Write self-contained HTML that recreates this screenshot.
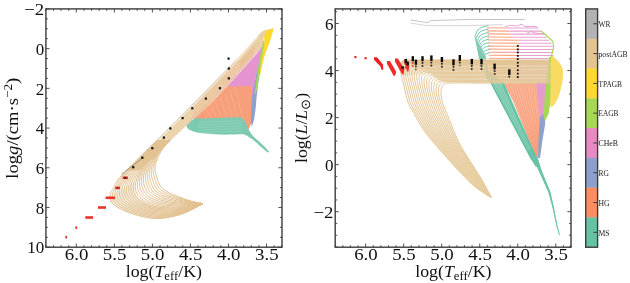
<!DOCTYPE html>
<html><head><meta charset="utf-8"><style>html,body{margin:0;padding:0;background:#fff;overflow:hidden;}svg{display:block;will-change:transform;}</style></head><body>
<svg width="630" height="283" viewBox="0 0 630 283" font-family='"Liberation Serif", serif' fill="#111">
<rect width="630" height="283" fill="#fff"/>
<defs><clipPath id="cl"><rect x="45.9" y="8.9" width="236.1" height="238.29999999999998"/></clipPath><clipPath id="cr"><rect x="335.2" y="8.9" width="235.8" height="238.29999999999998"/></clipPath></defs>
<g clip-path="url(#cl)"><path d="M193.0,118.0 L200.0,112.0 L211.9,101.5 L230.0,82.6 L236.0,77.0 L252.0,84.0 L253.0,100.0 L251.8,122.0 L248.0,131.0 L230.0,127.0 L200.0,121.0 Z" fill="#f69f7a"/>
<path d="M204.0,106.0 L211.0,117.0 L213.0,124.0" fill="none" stroke="#fbb596" stroke-width="0.6"/>
<path d="M209.2,102.8 L216.2,117.0 L218.2,124.0" fill="none" stroke="#fbb596" stroke-width="0.6"/>
<path d="M214.4,99.6 L221.4,117.0 L223.4,124.0" fill="none" stroke="#fbb596" stroke-width="0.6"/>
<path d="M219.6,96.4 L226.6,117.0 L228.6,124.0" fill="none" stroke="#fbb596" stroke-width="0.6"/>
<path d="M224.8,93.2 L231.8,117.0 L233.8,124.0" fill="none" stroke="#fbb596" stroke-width="0.6"/>
<path d="M230.0,90.0 L237.0,117.0 L239.0,124.0" fill="none" stroke="#fbb596" stroke-width="0.6"/>
<path d="M235.2,86.8 L242.2,117.0 L244.2,124.0" fill="none" stroke="#fbb596" stroke-width="0.6"/>
<path d="M226.0,86.0 L230.0,82.6 L245.0,66.0 L253.0,57.0 L259.0,50.0 L262.5,45.5 L264.0,50.0 L260.5,60.0 L256.5,72.0 L254.5,85.0 L254.0,100.0 L252.5,110.0 L251.0,110.0 L251.0,86.0 L233.8,86.5 Z" fill="#e594cf"/>
<path d="M262.0,54.0 L264.5,52.0 L262.0,62.0 L259.5,75.0 L257.8,86.0 L256.5,98.0 L255.5,110.0 L254.0,120.0 L251.8,127.0 L250.8,121.0 L251.5,108.0 L252.3,96.0 L254.5,84.0 L256.5,72.0 L259.5,62.0 Z" fill="#8da0cb"/>
<path d="M262.5,40.0 L265.0,42.0 L263.5,52.0 L261.5,62.0 L259.5,74.0 L258.0,84.0 L255.5,95.0 L254.5,94.0 L256.0,83.0 L257.5,72.0 L259.5,60.0 L261.5,48.0 Z" fill="#a6d854"/>
<path d="M263.0,31.0 L274.0,28.3 L271.0,38.0 L267.5,48.0 L264.5,56.0 L262.5,64.0 L260.5,74.0 L259.8,73.0 L261.0,62.0 L263.0,52.0 L264.5,44.0 L264.0,36.0 Z" fill="#ffd92f"/>
<path d="M186.5,124.0 C187.1,123.3 188.8,121.0 190.0,120.0 C191.2,119.0 191.5,118.5 194.0,118.2 C196.5,118.0 200.3,118.6 205.0,118.5 C209.7,118.4 216.5,118.0 222.0,117.8 C227.5,117.6 234.7,117.2 238.0,117.2 C241.3,117.2 240.8,117.3 242.0,118.0 C243.2,118.7 244.1,120.0 245.0,121.5 C245.9,123.0 246.8,125.4 247.5,127.0 C248.2,128.6 248.6,129.5 249.5,131.0 C250.4,132.5 251.6,134.4 253.0,136.0 C254.4,137.6 256.2,138.8 258.0,140.5 C259.8,142.2 262.1,144.1 264.0,146.0 C265.9,147.9 268.3,150.8 269.2,151.8 L268,152.6 267.6,152.4 C266.7,151.6 263.9,149.5 262.0,147.8 C260.1,146.1 257.8,143.8 256.0,142.3 C254.2,140.8 253.2,140.0 251.5,138.8 C249.8,137.6 247.6,135.9 246.0,135.2 C244.4,134.4 244.4,134.4 241.7,134.3 C239.0,134.2 233.8,134.6 230.0,134.6 C226.2,134.6 223.2,134.7 219.0,134.5 C214.8,134.3 209.0,133.9 205.0,133.5 C201.0,133.1 197.5,132.6 195.0,132.0 C192.5,131.4 191.3,130.8 190.0,130.0 C188.7,129.2 187.6,128.5 187.0,127.5 C186.4,126.5 186.6,124.6 186.5,124.0 Z" fill="#7ccab0"/>
<path d="M198.0,122.5 L215.0,121.5 L238.0,121.0 L242.0,122.0" fill="none" stroke="#9ad7c2" stroke-width="0.6"/>
<path d="M198.0,125.1 L215.0,124.1 L238.0,123.6 L242.0,124.6" fill="none" stroke="#9ad7c2" stroke-width="0.6"/>
<path d="M198.0,127.7 L215.0,126.7 L238.0,126.2 L242.0,127.2" fill="none" stroke="#9ad7c2" stroke-width="0.6"/>
<path d="M198.0,130.3 L215.0,129.3 L238.0,128.8 L242.0,129.8" fill="none" stroke="#9ad7c2" stroke-width="0.6"/>
<path d="M198.0,132.9 L215.0,131.9 L238.0,131.4 L242.0,132.4" fill="none" stroke="#9ad7c2" stroke-width="0.6"/>
<path d="M274.0,28.3 L263.0,30.8 L260.0,33.2 L240.0,55.5 L200.0,96.3 L160.0,137.1 L140.0,157.5 L126.0,171.0 L140.0,170.0 L150.0,160.0 L156.0,157.0 L163.0,147.3 L180.0,131.5 L200.0,112.9 L211.9,102.0 L230.0,83.1 L245.0,66.5 L253.0,57.5 L259.0,50.5 L262.5,46.0 L264.0,36.0 L266.0,31.0 Z" fill="#e9cfa5"/>
<path d="M256.0,44.2 L240.0,60.5 L212.0,89.1 L196.0,105.4 L190.0,122.2 L211.9,102.0 L230.0,83.1 L245.0,66.5 L253.0,57.5 Z" fill="#f3a57c" opacity="0.3"/>
<path d="M211.9,102.0 L230.0,83.1 L245.0,66.5 L253.0,57.5 L259.0,50.5 L257.5,49.0 L251.5,55.5 L243.5,64.3 L228.5,81.0 L210.4,99.8 Z" fill="#f0c8d0" opacity="0.4"/>
<path d="M259.0,34.0 L240.0,55.5 L200.0,96.3 L160.0,137.1 L140.0,157.5 L142.0,158.7 L160.0,140.3 L200.0,99.5 L240.0,58.7 L258.0,38.0 Z" fill="#fff" opacity="0.45"/>
<path d="M150.0,153.8 L200.0,102.8 L240.0,62.0" fill="none" stroke="#f3e4cc" stroke-width="0.6"/>
<path d="M150.0,156.8 L200.0,105.8 L240.0,65.0" fill="none" stroke="#f3e4cc" stroke-width="0.6"/>
<path d="M150.0,159.8 L200.0,108.8 L240.0,68.0" fill="none" stroke="#f3e4cc" stroke-width="0.6"/>
<path d="M157.0,140.0 C151.2,145.8 129.2,167.2 122.0,175.0 C114.8,182.8 116.0,183.5 114.0,187.0 C112.0,190.5 110.2,193.2 110.0,196.0 C109.8,198.8 110.5,201.5 113.0,204.0 C115.5,206.5 120.2,208.9 125.0,211.0 C129.8,213.1 136.2,215.2 142.0,216.5 C147.8,217.8 153.3,218.9 160.0,218.5 C166.7,218.1 174.9,216.4 182.0,214.0 C189.1,211.6 199.1,205.7 202.5,204.0" fill="none" stroke="#e0c08e" stroke-width="0.95"/>
<path d="M157.7,140.0 C152.1,145.5 131.3,165.7 124.5,173.3 C117.6,180.8 118.5,181.8 116.5,185.4 C114.5,188.9 112.6,191.8 112.4,194.7 C112.2,197.6 112.7,200.3 115.1,202.9 C117.5,205.4 121.8,207.8 126.5,210.0 C131.2,212.1 137.4,214.2 143.2,215.5 C149.1,216.8 154.8,217.8 161.4,217.5 C168.0,217.1 175.9,215.5 182.8,213.2 C189.6,211.0 199.2,205.5 202.5,204.0" fill="none" stroke="#e0c08e" stroke-width="0.95"/>
<path d="M158.3,140.0 C153.1,145.3 133.5,164.3 127.0,171.6 C120.4,178.9 121.0,180.1 119.0,183.8 C116.9,187.4 115.1,190.3 114.8,193.3 C114.5,196.3 115.0,199.1 117.2,201.7 C119.4,204.3 123.5,206.8 128.0,208.9 C132.6,211.0 138.7,213.2 144.5,214.5 C150.3,215.8 156.3,216.7 162.9,216.4 C169.4,216.1 176.9,214.5 183.5,212.5 C190.1,210.4 199.3,205.4 202.4,204.0" fill="none" stroke="#e0c08e" stroke-width="0.95"/>
<path d="M159.0,140.0 C154.1,145.0 135.7,162.8 129.4,169.9 C123.2,176.9 123.5,178.5 121.4,182.1 C119.4,185.8 117.5,188.9 117.1,192.0 C116.8,195.1 117.2,197.9 119.3,200.6 C121.4,203.2 125.2,205.7 129.6,207.9 C134.0,210.0 139.9,212.2 145.7,213.5 C151.5,214.8 157.9,215.7 164.3,215.4 C170.7,215.1 177.9,213.6 184.3,211.7 C190.6,209.8 199.4,205.3 202.4,204.0" fill="none" stroke="#e0c08e" stroke-width="0.95"/>
<path d="M159.7,140.0 C155.0,144.7 137.9,161.4 131.9,168.1 C125.9,174.9 126.0,176.8 123.9,180.5 C121.8,184.3 119.9,187.5 119.5,190.7 C119.1,193.8 119.5,196.7 121.4,199.4 C123.3,202.1 126.8,204.6 131.1,206.8 C135.4,209.0 141.2,211.2 147.0,212.5 C152.7,213.8 159.4,214.6 165.7,214.3 C172.1,214.1 178.9,212.7 185.0,211.0 C191.2,209.2 199.5,205.2 202.4,204.0" fill="none" stroke="#e0c08e" stroke-width="0.95"/>
<path d="M160.3,140.0 C156.0,144.4 140.0,159.9 134.4,166.4 C128.7,172.9 128.5,175.1 126.4,178.9 C124.3,182.7 122.4,186.1 121.9,189.3 C121.4,192.6 121.7,195.5 123.5,198.3 C125.3,201.0 128.5,203.6 132.6,205.8 C136.7,208.0 142.4,210.2 148.2,211.5 C153.9,212.8 160.9,213.5 167.1,213.3 C173.4,213.0 179.9,211.7 185.8,210.2 C191.7,208.6 199.6,205.0 202.4,204.0" fill="none" stroke="#e0c08e" stroke-width="0.95"/>
<path d="M161.0,140.0 C157.0,144.1 142.2,158.5 136.9,164.7 C131.5,170.9 131.0,173.4 128.9,177.3 C126.8,181.2 124.8,184.7 124.3,188.0 C123.7,191.3 123.9,194.4 125.6,197.1 C127.2,199.9 130.2,202.5 134.1,204.7 C138.1,206.9 143.7,209.2 149.4,210.5 C155.2,211.8 162.4,212.4 168.6,212.2 C174.8,212.0 180.9,210.8 186.6,209.4 C192.2,208.1 199.7,204.9 202.3,204.0" fill="none" stroke="#e0c08e" stroke-width="0.95"/>
<path d="M161.7,140.0 C157.9,143.8 144.4,157.1 139.3,163.0 C134.3,168.9 133.4,171.7 131.3,175.7 C129.2,179.6 127.3,183.3 126.7,186.7 C126.1,190.1 126.2,193.2 127.7,196.0 C129.2,198.8 131.8,201.4 135.7,203.7 C139.5,205.9 144.9,208.2 150.7,209.5 C156.4,210.8 163.9,211.3 170.0,211.2 C176.1,211.0 181.9,209.9 187.3,208.7 C192.7,207.5 199.8,204.8 202.3,204.0" fill="none" stroke="#e0c08e" stroke-width="0.95"/>
<path d="M162.3,140.0 C158.9,143.5 146.6,155.6 141.8,161.3 C137.1,167.0 135.9,170.0 133.8,174.0 C131.7,178.1 129.7,181.9 129.0,185.3 C128.4,188.8 128.4,192.0 129.8,194.9 C131.1,197.7 133.5,200.3 137.2,202.6 C140.9,204.9 146.2,207.2 151.9,208.5 C157.6,209.8 165.4,210.2 171.4,210.1 C177.5,210.0 183.0,208.9 188.1,207.9 C193.2,206.9 199.9,204.7 202.3,204.0" fill="none" stroke="#e0c08e" stroke-width="0.95"/>
<path d="M163.0,140.0 C159.9,143.3 148.7,154.2 144.3,159.6 C139.8,165.0 138.4,168.4 136.3,172.4 C134.1,176.5 132.2,180.5 131.4,184.0 C130.7,187.5 130.6,190.8 131.9,193.7 C133.1,196.6 135.2,199.3 138.7,201.6 C142.3,203.9 147.5,206.2 153.1,207.5 C158.8,208.8 166.9,209.1 172.9,209.1 C178.8,209.0 184.0,208.0 188.9,207.1 C193.8,206.3 200.0,204.5 202.2,204.0" fill="none" stroke="#e0c08e" stroke-width="0.95"/>
<path d="M163.7,140.0 C160.8,143.0 150.9,152.7 146.8,157.9 C142.6,163.0 140.9,166.7 138.8,170.8 C136.6,174.9 134.6,179.0 133.8,182.7 C133.0,186.3 132.9,189.6 134.0,192.6 C135.0,195.5 136.8,198.2 140.2,200.5 C143.6,202.8 148.7,205.2 154.4,206.5 C160.1,207.8 168.4,208.0 174.3,208.0 C180.2,208.0 185.0,207.1 189.6,206.4 C194.3,205.7 200.1,204.4 202.2,204.0" fill="none" stroke="#e0c08e" stroke-width="0.95"/>
<path d="M164.3,140.0 C161.7,142.7 152.7,151.6 148.8,156.5 C144.9,161.4 143.0,165.2 140.9,169.4 C138.7,173.5 136.8,177.7 136.0,181.3 C135.2,185.0 135.0,188.3 136.0,191.3 C137.0,194.3 138.7,197.0 142.0,199.4 C145.2,201.7 150.1,204.1 155.6,205.3 C161.2,206.6 169.4,206.9 175.1,207.0 C180.9,207.0 185.5,206.2 190.0,205.7 C194.5,205.2 200.2,204.3 202.2,204.0" fill="none" stroke="#e0c08e" stroke-width="0.95"/>
<path d="M165.0,140.0 C162.6,142.6 154.2,150.7 150.4,155.4 C146.7,160.1 144.7,164.0 142.6,168.1 C140.5,172.2 138.6,176.4 137.9,180.0 C137.1,183.6 137.1,187.0 138.1,190.0 C139.1,193.0 140.7,195.8 143.9,198.1 C147.0,200.5 151.6,202.7 156.9,204.0 C162.1,205.3 169.9,205.7 175.4,205.9 C181.0,206.1 185.5,205.6 190.0,205.2 C194.5,204.9 200.1,204.1 202.2,203.9" fill="none" stroke="#e0c08e" stroke-width="0.95"/>
<path d="M165.7,140.0 C163.4,142.4 155.6,149.9 152.0,154.4 C148.5,158.9 146.3,162.9 144.3,166.9 C142.2,171.0 140.4,175.0 139.8,178.7 C139.1,182.3 139.2,185.6 140.2,188.7 C141.2,191.7 142.8,194.6 145.8,196.9 C148.7,199.2 153.1,201.3 158.1,202.7 C163.1,204.0 170.4,204.5 175.7,204.9 C181.0,205.2 185.6,204.9 190.0,204.7 C194.4,204.6 200.1,204.0 202.2,203.9" fill="none" stroke="#e0c08e" stroke-width="0.95"/>
<path d="M166.3,140.0 C164.2,142.2 157.1,149.1 153.7,153.3 C150.3,157.6 148.0,161.7 146.0,165.7 C144.0,169.7 142.3,173.7 141.7,177.3 C141.1,180.9 141.3,184.3 142.3,187.3 C143.3,190.4 144.8,193.3 147.7,195.7 C150.5,198.0 154.6,200.0 159.3,201.3 C164.1,202.7 170.9,203.3 176.0,203.8 C181.1,204.3 185.6,204.2 190.0,204.2 C194.4,204.2 200.1,203.9 202.1,203.8" fill="none" stroke="#e0c08e" stroke-width="0.95"/>
<path d="M167.0,140.0 C165.0,142.0 158.5,148.2 155.3,152.3 C152.1,156.4 149.7,160.5 147.7,164.4 C145.8,168.4 144.1,172.4 143.6,176.0 C143.0,179.6 143.4,182.9 144.4,186.0 C145.4,189.1 146.9,192.1 149.6,194.4 C152.3,196.8 156.1,198.6 160.6,200.0 C165.0,201.4 171.4,202.2 176.3,202.8 C181.2,203.4 185.7,203.6 190.0,203.7 C194.3,203.9 200.1,203.8 202.1,203.8" fill="none" stroke="#e0c08e" stroke-width="0.95"/>
<path d="M167.7,140.0 C165.9,141.9 159.9,147.4 156.9,151.2 C153.9,155.1 151.3,159.3 149.4,163.2 C147.5,167.1 146.0,171.1 145.5,174.7 C145.0,178.2 145.5,181.6 146.5,184.7 C147.5,187.8 148.9,190.9 151.5,193.2 C154.0,195.5 157.6,197.2 161.8,198.7 C166.0,200.1 171.9,201.0 176.6,201.7 C181.3,202.5 185.7,202.9 190.0,203.2 C194.3,203.6 200.1,203.7 202.1,203.7" fill="none" stroke="#e0c08e" stroke-width="0.95"/>
<path d="M168.3,140.0 C166.7,141.7 161.4,146.5 158.5,150.2 C155.7,153.8 153.0,158.1 151.1,162.0 C149.3,165.8 147.8,169.8 147.4,173.3 C147.0,176.9 147.6,180.2 148.6,183.3 C149.6,186.4 151.0,189.6 153.4,192.0 C155.8,194.3 159.1,195.9 163.0,197.3 C167.0,198.8 172.4,199.8 176.9,200.7 C181.3,201.6 185.8,202.2 190.0,202.7 C194.2,203.2 200.1,203.5 202.1,203.7" fill="none" stroke="#e0c08e" stroke-width="0.95"/>
<path d="M169.0,140.0 C167.5,141.5 162.8,145.7 160.1,149.1 C157.5,152.6 154.7,156.9 152.9,160.7 C151.0,164.5 149.6,168.5 149.3,172.0 C148.9,175.5 149.7,178.9 150.7,182.0 C151.7,185.1 153.0,188.4 155.3,190.7 C157.5,193.0 160.6,194.5 164.3,196.0 C167.9,197.5 172.9,198.6 177.1,199.6 C181.4,200.7 185.8,201.5 190.0,202.2 C194.2,202.9 200.0,203.4 202.1,203.6" fill="none" stroke="#e0c08e" stroke-width="0.95"/>
<path d="M169.7,140.0 C168.3,141.3 164.3,144.8 161.8,148.1 C159.2,151.3 156.3,155.7 154.6,159.5 C152.8,163.2 151.5,167.1 151.2,170.7 C150.9,174.2 151.8,177.5 152.8,180.7 C153.8,183.8 155.1,187.1 157.2,189.5 C159.3,191.8 162.2,193.1 165.5,194.7 C168.9,196.2 173.3,197.4 177.4,198.6 C181.5,199.8 185.9,200.9 190.0,201.7 C194.1,202.5 200.0,203.3 202.0,203.6" fill="none" stroke="#e0c08e" stroke-width="0.95"/>
<path d="M170.3,140.0 C169.2,141.2 165.7,144.0 163.4,147.0 C161.0,150.1 158.0,154.5 156.3,158.2 C154.6,162.0 153.3,165.8 153.1,169.3 C152.9,172.8 153.9,176.2 154.9,179.3 C155.9,182.5 157.1,185.9 159.1,188.2 C161.1,190.6 163.7,191.8 166.8,193.3 C169.9,194.9 173.8,196.2 177.7,197.5 C181.6,198.9 185.9,200.2 190.0,201.2 C194.1,202.2 200.0,203.2 202.0,203.5" fill="none" stroke="#e0c08e" stroke-width="0.95"/>
<path d="M171.0,140.0 C170.0,141.0 167.2,143.2 165.0,146.0 C162.8,148.8 159.7,153.3 158.0,157.0 C156.3,160.7 155.2,164.5 155.0,168.0 C154.8,171.5 156.0,174.8 157.0,178.0 C158.0,181.2 159.2,184.7 161.0,187.0 C162.8,189.3 165.2,190.4 168.0,192.0 C170.8,193.6 174.3,195.1 178.0,196.5 C181.7,197.9 186.0,199.5 190.0,200.7 C194.0,201.9 200.0,203.0 202.0,203.5" fill="none" stroke="#e0c08e" stroke-width="0.95"/>
<path d="M110.0,196.0 C110.5,197.3 110.5,201.5 113.0,204.0 C115.5,206.5 120.2,208.9 125.0,211.0 C129.8,213.1 136.2,215.2 142.0,216.5 C147.8,217.8 153.3,218.9 160.0,218.5 C166.7,218.1 174.9,216.4 182.0,214.0 C189.1,211.6 199.1,205.7 202.5,204.0 L202.2,204.0 C200.2,204.3 194.5,205.4 190.0,206.0 C185.5,206.6 180.8,207.5 175.0,207.5 C169.2,207.5 160.7,207.2 155.0,206.0 C149.3,204.8 144.3,202.3 141.0,200.0 C137.7,197.7 136.0,195.0 135.0,192.0 C134.0,189.0 135.0,183.7 135.0,182.0 Z" fill="#e3c392" opacity="0.35"/>
<path d="M192,120 L211.9,102 L230,83.1 L245,66.5 L253,57.5 L259.5,50" fill="none" stroke="#fff" stroke-width="0.8" stroke-dasharray="1.2,0.8" opacity="0.85"/>
<path d="M121.5,174 L144,157" fill="none" stroke="#888" stroke-width="0.7"/>
<path d="M146,151 L236,61" fill="none" stroke="#c0c0c0" stroke-width="0.5"/>
<rect x="132.1" y="166.1" width="2.2" height="2.2" fill="#111"/>
<rect x="141.2" y="156.6" width="2.2" height="2.2" fill="#111"/>
<rect x="151.2" y="147.1" width="2.2" height="2.2" fill="#111"/>
<rect x="162.8" y="136.5" width="2.2" height="2.2" fill="#111"/>
<rect x="169.2" y="127.3" width="2.2" height="2.2" fill="#111"/>
<rect x="181.5" y="117.0" width="2.2" height="2.2" fill="#111"/>
<rect x="191.2" y="107.2" width="2.2" height="2.2" fill="#111"/>
<rect x="204.8" y="97.5" width="2.2" height="2.2" fill="#111"/>
<rect x="218.8" y="87.1" width="2.2" height="2.2" fill="#111"/>
<rect x="227.7" y="77.3" width="2.2" height="2.2" fill="#111"/>
<rect x="227.7" y="67.4" width="2.2" height="2.2" fill="#111"/>
<rect x="227.5" y="57.5" width="2.2" height="2.2" fill="#111"/>
<rect x="65.3" y="235.9" width="1.8" height="2.6" fill="#e8322a"/>
<rect x="75.4" y="226.3" width="1.8" height="2.6" fill="#e8322a"/>
<rect x="85.3" y="216.2" width="7.7" height="2.6" fill="#e8322a"/>
<rect x="98.0" y="206.2" width="8.0" height="2.6" fill="#e8322a"/>
<rect x="105.6" y="196.5" width="9.4" height="2.6" fill="#e8322a"/>
<rect x="115.2" y="186.6" width="4.8" height="2.6" fill="#e8322a"/>
<rect x="122.6" y="176.5" width="5.3" height="2.6" fill="#e8322a"/>
<rect x="124" y="176.9" width="2.6" height="1.8" fill="#5a1a10"/>
<rect x="116.5" y="187" width="2" height="1.8" fill="#9a2a1a"/></g>
<g clip-path="url(#cr)"><path d="M487.0,27.8 L506.0,28.0" fill="none" stroke="#f9a47f" stroke-width="1.1"/>
<path d="M506.0,28.0 L538.5,28.0" fill="none" stroke="#e8a0d2" stroke-width="1.05"/>
<path d="M487.2,30.9 L508.0,31.1" fill="none" stroke="#f9a47f" stroke-width="1.1"/>
<path d="M508.0,31.1 L541.3,31.1" fill="none" stroke="#e8a0d2" stroke-width="1.05"/>
<path d="M487.4,33.9 L510.0,34.1" fill="none" stroke="#f9a47f" stroke-width="1.1"/>
<path d="M510.0,34.1 L544.0,34.1" fill="none" stroke="#e8a0d2" stroke-width="1.05"/>
<path d="M487.6,37.0 L512.0,37.2" fill="none" stroke="#f9a47f" stroke-width="1.1"/>
<path d="M512.0,37.2 L546.8,37.2" fill="none" stroke="#e8a0d2" stroke-width="1.05"/>
<path d="M487.8,40.0 L520.0,40.2" fill="none" stroke="#f9a47f" stroke-width="1.1"/>
<path d="M520.0,40.2 L549.2,40.2" fill="none" stroke="#e8a0d2" stroke-width="1.05"/>
<path d="M488.0,43.0 L520.0,43.2" fill="none" stroke="#f9a47f" stroke-width="1.1"/>
<path d="M520.0,43.2 L551.6,43.2" fill="none" stroke="#e8a0d2" stroke-width="1.05"/>
<path d="M488.2,46.1 L520.0,46.3" fill="none" stroke="#f9a47f" stroke-width="1.1"/>
<path d="M520.0,46.3 L553.5,46.3" fill="none" stroke="#e8a0d2" stroke-width="1.05"/>
<path d="M488.4,49.1 L520.0,49.4" fill="none" stroke="#f9a47f" stroke-width="1.1"/>
<path d="M520.0,49.4 L553.5,49.4" fill="none" stroke="#e8a0d2" stroke-width="1.05"/>
<path d="M488.6,52.2 L520.0,52.4" fill="none" stroke="#f9a47f" stroke-width="1.1"/>
<path d="M520.0,52.4 L553.5,52.4" fill="none" stroke="#e8a0d2" stroke-width="1.05"/>
<path d="M488.8,55.2 L520.0,55.5" fill="none" stroke="#f9a47f" stroke-width="1.1"/>
<path d="M520.0,55.5 L553.5,55.5" fill="none" stroke="#e8a0d2" stroke-width="1.05"/>
<path d="M489.0,58.3 L520.0,58.5" fill="none" stroke="#f9a47f" stroke-width="1.1"/>
<path d="M520.0,58.5 L548.5,58.5" fill="none" stroke="#e8a0d2" stroke-width="1.05"/>
<path d="M489.2,61.3 L520.0,61.5" fill="none" stroke="#f9a47f" stroke-width="1.1"/>
<path d="M520.0,61.5 L548.5,61.5" fill="none" stroke="#e8a0d2" stroke-width="1.05"/>
<path d="M489.4,64.4 L520.0,64.6" fill="none" stroke="#f9a47f" stroke-width="1.1"/>
<path d="M520.0,64.6 L548.5,64.6" fill="none" stroke="#e8a0d2" stroke-width="1.05"/>
<path d="M489.6,67.5 L520.0,67.7" fill="none" stroke="#f9a47f" stroke-width="1.1"/>
<path d="M520.0,67.7 L548.5,67.7" fill="none" stroke="#e8a0d2" stroke-width="1.05"/>
<path d="M489.8,70.5 L520.0,70.7" fill="none" stroke="#f9a47f" stroke-width="1.1"/>
<path d="M520.0,70.7 L548.5,70.7" fill="none" stroke="#e8a0d2" stroke-width="1.05"/>
<path d="M490.0,73.5 L520.0,73.8" fill="none" stroke="#f9a47f" stroke-width="1.1"/>
<path d="M520.0,73.8 L548.5,73.8" fill="none" stroke="#e8a0d2" stroke-width="1.05"/>
<path d="M490.2,76.6 L520.0,76.8" fill="none" stroke="#f9a47f" stroke-width="1.1"/>
<path d="M520.0,76.8 L548.5,76.8" fill="none" stroke="#e8a0d2" stroke-width="1.05"/>
<path d="M490.4,79.6 L520.0,79.8" fill="none" stroke="#f9a47f" stroke-width="1.1"/>
<path d="M520.0,79.8 L548.5,79.8" fill="none" stroke="#e8a0d2" stroke-width="1.05"/>
<path d="M505,26.5 Q512,24.5 518,26 Q521,22.5 525,26.5 L537,26.5" fill="none" stroke="#e99bd0" stroke-width="0.9"/>
<path d="M527,33 Q531,30 535,33 L545,34" fill="none" stroke="#e99bd0" stroke-width="0.9"/>
<path d="M500,52.5 L550,52.5" fill="none" stroke="#e8a0d2" stroke-width="0.9" stroke-dasharray="0.8,1.2"/>
<path d="M503.0,82.4 L537.0,82.4 L539.0,105.0 L539.0,130.0 L538.5,150.0 L537.5,162.0 L536.0,158.0 L529.0,140.0 L521.0,120.0 L513.0,100.0 Z" fill="#fab69a"/>
<path d="M505.0,83 Q522.8,120.0 536.5,160.0" fill="none" stroke="#f8976f" stroke-width="0.65"/>
<path d="M508.0,83 Q524.4,120.0 536.7,159.1" fill="none" stroke="#f8976f" stroke-width="0.65"/>
<path d="M511.0,83 Q526.0,120.0 537.0,158.2" fill="none" stroke="#f8976f" stroke-width="0.65"/>
<path d="M514.0,83 Q527.6,120.0 537.2,157.3" fill="none" stroke="#f8976f" stroke-width="0.65"/>
<path d="M517.0,83 Q529.2,120.0 537.4,156.4" fill="none" stroke="#f8976f" stroke-width="0.65"/>
<path d="M520.0,83 Q530.8,120.0 537.6,155.5" fill="none" stroke="#f8976f" stroke-width="0.65"/>
<path d="M523.0,83 Q532.4,120.0 537.9,154.5" fill="none" stroke="#f8976f" stroke-width="0.65"/>
<path d="M526.0,83 Q534.0,120.0 538.1,153.6" fill="none" stroke="#f8976f" stroke-width="0.65"/>
<path d="M529.0,83 Q535.7,120.0 538.3,152.7" fill="none" stroke="#f8976f" stroke-width="0.65"/>
<path d="M532.0,83 Q537.3,120.0 538.5,151.8" fill="none" stroke="#f8976f" stroke-width="0.65"/>
<path d="M535.0,83 Q538.9,120.0 538.8,150.9" fill="none" stroke="#f8976f" stroke-width="0.65"/>
<path d="M538.0,83 Q540.5,120.0 539.0,150.0" fill="none" stroke="#f8976f" stroke-width="0.65"/>
<path d="M536.0,82.0 L547.0,82.0 L546.0,100.0 L544.0,112.0 L541.5,124.0 L539.5,124.0 L538.5,105.0 Z" fill="#e69bcf"/>
<path d="M539.5,118.0 L545.5,112.0 L545.0,125.0 L542.5,140.0 L540.0,158.0 L538.0,158.0 L538.8,135.0 Z" fill="#8fa2cc"/>
<path d="M549.0,57.0 L552.5,57.0 L552.0,72.0 L551.5,85.0 L551.0,100.0 L548.5,114.0 L545.0,121.0 L543.5,118.0 L544.5,100.0 L545.5,85.0 L547.5,70.0 Z" fill="#a6d854"/>
<path d="M551.5,55.0 C552.6,56.0 556.2,58.8 558.0,61.0 C559.8,63.2 561.6,65.3 562.4,68.0 C563.2,70.7 563.2,73.7 563.0,77.0 C562.8,80.3 561.8,84.5 561.0,88.0 C560.2,91.5 559.2,95.2 558.0,98.0 C556.8,100.8 555.2,103.7 554.0,105.0 C552.8,106.3 551.1,108.5 550.5,106.0 C549.9,103.5 550.5,97.3 550.5,90.0 C550.5,82.7 550.5,66.7 550.5,62.0 Z" fill="#f9da62"/>
<path d="M541,31 L547,36 L552.5,41 L553.8,46 L552.5,52 L551,57" fill="none" stroke="#a6d854" stroke-width="1.1"/>
<path d="M488.5,25.5 C487.0,26.0 481.7,26.9 479.5,28.5 C477.3,30.1 476.1,32.9 475.5,35.0 C474.9,37.1 474.8,35.2 476.0,41.0 C477.2,46.8 480.0,62.5 482.5,69.5 C485.0,76.5 489.6,80.8 491.0,83.0" fill="none" stroke="#69c3a6" stroke-width="0.95"/>
<path d="M488.7,28.9 C487.3,29.3 482.3,30.3 480.3,31.7 C478.3,33.1 477.2,35.5 476.7,37.4 C476.2,39.3 476.1,37.7 477.2,43.1 C478.3,48.5 480.7,63.1 483.2,69.8 C485.8,76.4 491.0,80.8 492.5,83.0" fill="none" stroke="#69c3a6" stroke-width="0.95"/>
<path d="M488.9,32.2 C487.6,32.7 483.0,33.6 481.1,34.9 C479.3,36.1 478.3,38.0 477.9,39.8 C477.4,41.5 477.4,40.2 478.4,45.2 C479.4,50.3 481.4,63.7 484.0,70.0 C486.6,76.3 492.3,80.8 494.0,83.0" fill="none" stroke="#69c3a6" stroke-width="0.95"/>
<path d="M489.1,35.6 C487.9,36.0 483.6,37.0 481.9,38.1 C480.3,39.1 479.5,40.6 479.1,42.1 C478.7,43.7 478.6,42.7 479.6,47.4 C480.5,52.1 482.1,64.3 484.8,70.2 C487.4,76.2 493.7,80.9 495.5,83.0" fill="none" stroke="#69c3a6" stroke-width="0.95"/>
<path d="M489.2,39.0 C488.2,39.4 484.2,40.3 482.8,41.2 C481.2,42.2 480.6,43.1 480.2,44.5 C479.9,45.9 479.9,45.2 480.8,49.5 C481.6,53.8 482.8,64.9 485.5,70.5 C488.2,76.1 495.1,80.9 497.0,83.0" fill="none" stroke="#69c3a6" stroke-width="0.95"/>
<path d="M489.4,42.4 C488.5,42.7 484.9,43.7 483.6,44.4 C482.2,45.2 481.7,45.7 481.4,46.9 C481.2,48.1 481.1,47.6 481.9,51.6 C482.7,55.6 483.5,65.5 486.2,70.8 C489.0,76.0 496.5,81.0 498.5,83.0" fill="none" stroke="#69c3a6" stroke-width="0.95"/>
<path d="M489.6,45.8 C488.8,46.1 485.5,47.0 484.4,47.6 C483.2,48.2 482.8,48.2 482.6,49.2 C482.4,50.3 482.4,50.1 483.1,53.8 C483.9,57.4 484.2,66.1 487.0,71.0 C489.8,75.9 497.8,81.0 500.0,83.0" fill="none" stroke="#69c3a6" stroke-width="0.95"/>
<path d="M489.8,49.1 C489.0,49.4 486.2,50.4 485.2,50.8 C484.2,51.2 484.0,50.8 483.8,51.6 C483.7,52.5 483.7,52.6 484.3,55.9 C485.0,59.1 484.9,66.7 487.8,71.2 C490.6,75.8 499.2,81.0 501.5,83.0" fill="none" stroke="#69c3a6" stroke-width="0.95"/>
<path d="M490.0,52.5 C489.3,52.8 486.8,53.8 486.0,54.0 C485.2,54.2 485.1,53.3 485.0,54.0 C484.9,54.7 484.9,55.1 485.5,58.0 C486.1,60.9 485.6,67.3 488.5,71.5 C491.4,75.7 500.6,81.1 503.0,83.0" fill="none" stroke="#69c3a6" stroke-width="0.95"/>
<path d="M490.9,82.4 L500.2,100.0 L510.8,120.0 L521.4,140.0 L531.0,158.0 L536.6,166.5 L542.0,178.0 L548.5,192.5 L552.4,207.1 L556.4,225.7 L559.1,235.0 L559.8,234.8 L557.2,225.5 L553.4,206.8 L550.0,192.0 L544.5,178.0 L539.4,166.5 L536.6,158.0 L528.6,140.0 L519.8,120.0 L511.0,100.0 L503.3,82.4 Z" fill="#93d4be"/>
<path d="M490.9,82.4 L500.2,100.0 L510.8,120.0 L521.4,140.0 L531.0,158.0 L537.5,166.5" fill="none" stroke="#6cc5a7" stroke-width="0.9"/>
<path d="M493.4,82.4 L502.4,100.0 L512.6,120.0 L522.9,140.0 L532.1,158.0 L537.8,166.5" fill="none" stroke="#6cc5a7" stroke-width="0.9"/>
<path d="M495.9,82.4 L504.6,100.0 L514.4,120.0 L524.3,140.0 L533.2,158.0 L538.1,166.5" fill="none" stroke="#6cc5a7" stroke-width="0.9"/>
<path d="M498.3,82.4 L506.7,100.0 L516.2,120.0 L525.8,140.0 L534.3,158.0 L538.4,166.5" fill="none" stroke="#6cc5a7" stroke-width="0.9"/>
<path d="M500.8,82.4 L508.9,100.0 L518.0,120.0 L527.2,140.0 L535.4,158.0 L538.7,166.5" fill="none" stroke="#6cc5a7" stroke-width="0.9"/>
<path d="M503.3,82.4 L511.0,100.0 L519.8,120.0 L528.6,140.0 L536.6,158.0 L539.0,166.5" fill="none" stroke="#6cc5a7" stroke-width="0.9"/>
<path d="M490.9,82.4 L510.8,120.0 L531.0,158.0 L536.6,166.5" fill="none" stroke="#5fbd9e" stroke-width="1.4"/>
<path d="M526.7,150.0 L534.0,160.0 L537.5,168.0 L542.5,179.0 L548.5,192.5 L552.4,207.1 L556.4,225.7 L559.1,235.0 L559.8,234.8 L557.4,225.5 L553.8,206.8 L550.5,192.0 L545.5,180.0 L541.0,168.5 L538.5,160.0 L533.0,150.0 Z" fill="#6ac4a7"/>
<path d="M502.3,82.4 L518.8,120.0 L535.6,158.0 L538.5,166.5" fill="none" stroke="#66c2a5" stroke-width="1.6"/>
<path d="M486.0,59.5 L404.0,59.5 L399.0,65.0 L404.0,76.0 L430.0,73.0 L440.0,82.0 L486.0,83.5 Z" fill="#f1e2c8" opacity="0.8"/>
<path d="M549.0,59.5 L486.0,59.5 L486.0,83.5 L549.0,83.5 Z" fill="#ead3b0" opacity="0.5"/>
<path d="M549.0,59.5 L404.0,59.5 L401.0,62.0 L401.0,64.5 L549.0,64.5 Z" fill="#e6c99c" opacity="0.9"/>
<path d="M550.0,61.0 C538.3,60.9 503.0,60.6 480.0,60.5 C457.0,60.4 424.8,60.3 412.0,60.5 C399.2,60.7 405.1,60.8 403.0,61.5 C400.9,62.2 399.8,62.9 399.5,65.0 C399.2,67.1 400.2,70.5 401.0,74.0 C401.8,77.5 402.8,81.3 404.0,86.0 C405.2,90.7 406.0,96.8 408.0,102.0 C410.0,107.2 413.2,112.0 416.0,117.0 C418.8,122.0 421.0,126.5 425.0,132.0 C429.0,137.5 434.5,143.7 440.0,150.0 C445.5,156.3 452.3,164.0 458.0,170.0 C463.7,176.0 468.5,181.4 474.0,186.0 C479.5,190.6 488.2,195.6 491.0,197.5" fill="none" stroke="#e1c391" stroke-width="0.95"/>
<path d="M550.0,62.3 C538.3,62.2 502.6,61.9 480.0,61.8 C457.4,61.7 426.7,61.7 414.3,61.8 C401.9,62.0 407.5,62.1 405.4,62.9 C403.4,63.6 402.3,64.3 402.0,66.4 C401.6,68.4 402.6,71.8 403.4,75.2 C404.1,78.7 405.1,82.5 406.3,87.1 C407.5,91.6 408.3,97.6 410.3,102.7 C412.3,107.8 415.3,112.5 418.1,117.5 C420.8,122.4 423.0,126.8 426.8,132.2 C430.7,137.6 436.0,143.6 441.3,149.9 C446.6,156.1 453.3,163.7 458.8,169.6 C464.4,175.6 469.1,181.0 474.5,185.6 C479.8,190.3 488.2,195.5 491.0,197.5" fill="none" stroke="#e1c391" stroke-width="0.95"/>
<path d="M550.0,63.6 C538.3,63.5 502.2,63.2 480.0,63.1 C457.8,63.1 428.6,63.0 416.6,63.1 C404.6,63.3 409.8,63.4 407.8,64.2 C405.8,65.0 404.8,65.7 404.4,67.7 C404.1,69.8 405.0,73.1 405.7,76.5 C406.4,79.9 407.4,83.6 408.6,88.1 C409.7,92.6 410.7,98.4 412.6,103.4 C414.5,108.4 417.5,113.1 420.2,117.9 C422.9,122.8 424.9,127.2 428.6,132.5 C432.4,137.8 437.4,143.6 442.6,149.8 C447.8,155.9 454.3,163.4 459.6,169.3 C465.0,175.2 469.7,180.6 474.9,185.3 C480.2,190.0 488.3,195.4 491.0,197.4" fill="none" stroke="#e1c391" stroke-width="0.95"/>
<path d="M550.0,64.9 C538.3,64.8 501.9,64.5 480.0,64.5 C458.1,64.4 430.5,64.3 418.9,64.5 C407.3,64.7 412.2,64.8 410.2,65.6 C408.2,66.3 407.3,67.0 406.9,69.1 C406.5,71.1 407.4,74.4 408.1,77.7 C408.7,81.1 409.7,84.8 410.9,89.2 C412.0,93.6 413.0,99.2 414.9,104.1 C416.8,109.0 419.7,113.6 422.3,118.4 C424.9,123.2 426.9,127.5 430.5,132.7 C434.1,137.9 438.9,143.6 443.9,149.6 C448.9,155.7 455.2,163.1 460.5,168.9 C465.7,174.8 470.3,180.2 475.4,184.9 C480.5,189.7 488.4,195.3 491.0,197.4" fill="none" stroke="#e1c391" stroke-width="0.95"/>
<path d="M550.0,66.2 C538.3,66.1 501.5,65.9 480.0,65.8 C458.5,65.7 432.4,65.6 421.2,65.8 C410.0,66.0 414.6,66.1 412.6,66.9 C410.7,67.7 409.8,68.4 409.4,70.4 C409.0,72.4 409.8,75.6 410.4,78.9 C411.0,82.2 412.0,85.9 413.2,90.2 C414.3,94.5 415.3,100.0 417.2,104.8 C419.0,109.6 421.8,114.2 424.4,118.9 C426.9,123.6 428.8,127.8 432.3,132.9 C435.8,138.0 440.3,143.6 445.2,149.5 C450.0,155.5 456.2,162.7 461.3,168.6 C466.4,174.4 470.9,179.8 475.9,184.6 C480.8,189.4 488.5,195.2 491.0,197.4" fill="none" stroke="#e1c391" stroke-width="0.95"/>
<path d="M550.0,67.5 C538.3,67.4 501.1,67.2 480.0,67.1 C458.9,67.1 434.3,66.9 423.5,67.1 C412.6,67.3 417.0,67.5 415.1,68.3 C413.1,69.0 412.2,69.8 411.9,71.8 C411.5,73.7 412.2,76.9 412.8,80.2 C413.4,83.4 414.4,87.1 415.5,91.3 C416.6,95.5 417.6,100.9 419.5,105.5 C421.3,110.2 424.0,114.7 426.4,119.4 C428.9,124.0 430.8,128.2 434.1,133.2 C437.5,138.2 441.8,143.6 446.5,149.4 C451.1,155.3 457.1,162.4 462.1,168.2 C467.1,174.0 471.5,179.4 476.4,184.2 C481.2,189.1 488.6,195.2 491.0,197.4" fill="none" stroke="#e1c391" stroke-width="0.95"/>
<path d="M550.0,68.8 C538.3,68.7 500.7,68.5 480.0,68.4 C459.3,68.4 436.2,68.2 425.8,68.4 C415.3,68.6 419.4,68.8 417.5,69.6 C415.6,70.4 414.7,71.2 414.3,73.1 C413.9,75.1 414.5,78.2 415.1,81.4 C415.7,84.6 416.7,88.2 417.8,92.4 C418.9,96.5 420.0,101.7 421.8,106.2 C423.6,110.8 426.2,115.3 428.5,119.8 C430.9,124.4 432.7,128.5 435.9,133.4 C439.1,138.3 443.3,143.5 447.8,149.3 C452.3,155.0 458.1,162.1 462.9,167.9 C467.8,173.6 472.1,179.0 476.8,183.9 C481.5,188.8 488.6,195.1 491.0,197.3" fill="none" stroke="#e1c391" stroke-width="0.95"/>
<path d="M550.0,70.1 C538.3,70.0 500.3,69.8 480.0,69.8 C459.7,69.7 438.1,69.6 428.1,69.8 C418.0,70.0 421.8,70.2 419.9,71.0 C418.0,71.8 417.2,72.5 416.8,74.5 C416.4,76.4 416.9,79.5 417.5,82.6 C418.0,85.8 419.0,89.4 420.1,93.4 C421.2,97.5 422.3,102.5 424.1,106.9 C425.8,111.4 428.3,115.8 430.6,120.3 C432.9,124.7 434.7,128.8 437.8,133.6 C440.8,138.5 444.7,143.5 449.1,149.2 C453.4,154.8 459.1,161.8 463.8,167.5 C468.5,173.3 472.8,178.6 477.3,183.5 C481.8,188.5 488.7,195.0 491.0,197.3" fill="none" stroke="#e1c391" stroke-width="0.95"/>
<path d="M550.0,71.4 C538.3,71.3 499.9,71.1 480.0,71.1 C460.1,71.0 440.0,70.9 430.4,71.1 C420.7,71.3 424.1,71.5 422.3,72.3 C420.4,73.1 419.7,73.9 419.3,75.8 C418.9,77.8 419.3,80.8 419.8,83.9 C420.3,87.0 421.3,90.5 422.4,94.5 C423.4,98.4 424.6,103.3 426.4,107.6 C428.1,112.0 430.5,116.4 432.7,120.8 C434.9,125.1 436.6,129.2 439.6,133.9 C442.5,138.6 446.2,143.5 450.4,149.1 C454.5,154.6 460.0,161.5 464.6,167.2 C469.2,172.9 473.4,178.2 477.8,183.2 C482.2,188.2 488.8,194.9 491.0,197.3" fill="none" stroke="#e1c391" stroke-width="0.95"/>
<path d="M550.0,72.6 C538.3,72.6 499.6,72.5 480.0,72.4 C460.4,72.4 441.9,72.2 432.6,72.4 C423.4,72.6 426.5,72.9 424.7,73.7 C422.9,74.5 422.2,75.3 421.7,77.2 C421.3,79.1 421.7,82.1 422.2,85.1 C422.7,88.2 423.6,91.7 424.6,95.5 C425.7,99.4 427.0,104.1 428.6,108.4 C430.3,112.6 432.7,116.9 434.8,121.2 C436.9,125.5 438.6,129.5 441.4,134.1 C444.2,138.7 447.6,143.5 451.6,148.9 C455.6,154.4 461.0,161.2 465.4,166.8 C469.8,172.5 474.0,177.8 478.2,182.8 C482.5,187.9 488.9,194.8 491.0,197.2" fill="none" stroke="#e1c391" stroke-width="0.95"/>
<path d="M550.0,73.9 C538.3,73.9 499.2,73.8 480.0,73.7 C460.8,73.7 443.8,73.5 434.9,73.7 C426.1,74.0 428.9,74.2 427.1,75.0 C425.3,75.8 424.6,76.6 424.2,78.5 C423.8,80.4 424.1,83.3 424.5,86.4 C425.0,89.4 425.9,92.8 426.9,96.6 C428.0,100.4 429.3,104.9 430.9,109.1 C432.6,113.2 434.8,117.5 436.9,121.7 C438.9,125.9 440.6,129.8 443.2,134.4 C445.9,138.9 449.1,143.5 452.9,148.8 C456.8,154.2 461.9,160.9 466.2,166.5 C470.5,172.1 474.6,177.3 478.7,182.5 C482.8,187.6 489.0,194.8 491.0,197.2" fill="none" stroke="#e1c391" stroke-width="0.95"/>
<path d="M550.0,75.2 C538.3,75.2 498.8,75.1 480.0,75.1 C461.2,75.0 445.6,74.8 437.2,75.1 C428.8,75.3 431.3,75.6 429.5,76.4 C427.8,77.2 427.1,78.0 426.7,79.9 C426.2,81.8 426.5,84.6 426.9,87.6 C427.3,90.5 428.2,94.0 429.2,97.6 C430.3,101.3 431.6,105.7 433.2,109.8 C434.9,113.9 437.0,118.0 439.0,122.2 C440.9,126.3 442.5,130.2 445.1,134.6 C447.6,139.0 450.6,143.5 454.2,148.7 C457.9,154.0 462.9,160.5 467.1,166.1 C471.2,171.7 475.2,176.9 479.2,182.1 C483.2,187.3 489.0,194.7 491.0,197.2" fill="none" stroke="#e1c391" stroke-width="0.95"/>
<path d="M550.0,76.5 C538.3,76.5 498.4,76.4 480.0,76.4 C461.6,76.4 447.5,76.2 439.5,76.4 C431.5,76.6 433.7,76.9 431.9,77.7 C430.2,78.5 429.6,79.4 429.1,81.2 C428.7,83.1 428.8,85.9 429.2,88.8 C429.6,91.7 430.5,95.1 431.5,98.7 C432.6,102.3 433.9,106.5 435.5,110.5 C437.1,114.5 439.2,118.6 441.1,122.6 C443.0,126.7 444.5,130.5 446.9,134.8 C449.3,139.1 452.0,143.4 455.5,148.6 C459.0,153.7 463.9,160.2 467.9,165.8 C471.9,171.3 475.8,176.5 479.6,181.8 C483.5,187.0 489.1,194.6 491.0,197.1" fill="none" stroke="#e1c391" stroke-width="0.95"/>
<path d="M550.0,77.8 C538.3,77.8 498.0,77.7 480.0,77.7 C462.0,77.7 449.4,77.5 441.8,77.7 C434.2,77.9 436.1,78.3 434.4,79.1 C432.7,79.9 432.1,80.8 431.6,82.6 C431.2,84.4 431.2,87.2 431.6,90.1 C432.0,92.9 432.8,96.2 433.8,99.8 C434.9,103.3 436.3,107.3 437.8,111.2 C439.4,115.1 441.3,119.1 443.1,123.1 C445.0,127.1 446.4,130.8 448.7,135.1 C451.0,139.3 453.5,143.4 456.8,148.5 C460.2,153.5 464.8,159.9 468.7,165.4 C472.6,170.9 476.4,176.1 480.1,181.4 C483.8,186.7 489.2,194.5 491.0,197.1" fill="none" stroke="#e1c391" stroke-width="0.95"/>
<path d="M550.0,79.1 C538.3,79.1 497.6,79.0 480.0,79.0 C462.4,79.0 451.3,78.8 444.1,79.0 C436.9,79.3 438.4,79.6 436.8,80.4 C435.1,81.3 434.6,82.1 434.1,83.9 C433.6,85.8 433.6,88.5 433.9,91.3 C434.3,94.1 435.1,97.4 436.1,100.8 C437.1,104.3 438.6,108.1 440.1,111.9 C441.6,115.7 443.5,119.7 445.2,123.6 C447.0,127.5 448.4,131.2 450.5,135.3 C452.7,139.4 455.0,143.4 458.1,148.4 C461.3,153.3 465.8,159.6 469.5,165.1 C473.3,170.5 477.0,175.7 480.6,181.1 C484.2,186.4 489.3,194.4 491.0,197.1" fill="none" stroke="#e1c391" stroke-width="0.95"/>
<path d="M550.0,80.4 C538.3,80.4 497.3,80.4 480.0,80.4 C462.7,80.3 453.2,80.1 446.4,80.4 C439.6,80.6 440.8,81.0 439.2,81.8 C437.5,82.6 437.0,83.5 436.6,85.3 C436.1,87.1 436.0,89.8 436.3,92.5 C436.6,95.3 437.4,98.5 438.4,101.9 C439.4,105.2 440.9,108.9 442.4,112.6 C443.9,116.3 445.7,120.2 447.3,124.1 C449.0,127.9 450.3,131.5 452.4,135.5 C454.4,139.6 456.4,143.4 459.4,148.2 C462.4,153.1 466.7,159.3 470.4,164.7 C474.0,170.1 477.6,175.3 481.1,180.7 C484.5,186.1 489.3,194.3 491.0,197.1" fill="none" stroke="#e1c391" stroke-width="0.95"/>
<path d="M550.0,81.7 C538.3,81.7 496.9,81.7 480.0,81.7 C463.1,81.7 455.1,81.4 448.7,81.7 C442.3,81.9 443.2,82.3 441.6,83.1 C440.0,84.0 439.5,84.9 439.0,86.6 C438.5,88.4 438.4,91.0 438.6,93.8 C438.9,96.5 439.7,99.7 440.7,102.9 C441.7,106.2 443.3,109.7 444.7,113.3 C446.2,116.9 447.8,120.8 449.4,124.5 C451.0,128.3 452.3,131.8 454.2,135.8 C456.1,139.7 457.9,143.4 460.7,148.1 C463.5,152.9 467.7,159.0 471.2,164.4 C474.6,169.7 478.2,174.9 481.5,180.4 C484.8,185.8 489.4,194.2 491.0,197.0" fill="none" stroke="#e1c391" stroke-width="0.95"/>
<path d="M550.0,83.0 C538.3,83.0 496.5,83.0 480.0,83.0 C463.5,83.0 457.0,82.8 451.0,83.0 C445.0,83.2 445.6,83.7 444.0,84.5 C442.4,85.3 442.0,86.2 441.5,88.0 C441.0,89.8 440.8,92.3 441.0,95.0 C441.2,97.7 442.0,100.8 443.0,104.0 C444.0,107.2 445.6,110.5 447.0,114.0 C448.4,117.5 450.0,121.3 451.5,125.0 C453.0,128.7 454.2,132.2 456.0,136.0 C457.8,139.8 459.3,143.3 462.0,148.0 C464.7,152.7 468.7,158.7 472.0,164.0 C475.3,169.3 478.8,174.5 482.0,180.0 C485.2,185.5 489.5,194.2 491.0,197.0" fill="none" stroke="#e1c391" stroke-width="0.95"/>
<defs><linearGradient id="tg" x1="0" y1="105" x2="0" y2="160" gradientUnits="userSpaceOnUse"><stop offset="0" stop-color="#e9cfa3" stop-opacity="0"/><stop offset="1" stop-color="#e9cfa3" stop-opacity="0.7"/></linearGradient></defs>
<path d="M408.0,102.0 C409.3,104.5 413.2,112.0 416.0,117.0 C418.8,122.0 421.0,126.5 425.0,132.0 C429.0,137.5 434.5,143.7 440.0,150.0 C445.5,156.3 452.3,164.0 458.0,170.0 C463.7,176.0 468.5,181.4 474.0,186.0 C479.5,190.6 488.2,195.6 491.0,197.5 L491.0,197.0 C489.5,194.2 485.2,185.5 482.0,180.0 C478.8,174.5 475.3,169.3 472.0,164.0 C468.7,158.7 464.7,152.7 462.0,148.0 C459.3,143.3 457.8,139.8 456.0,136.0 C454.2,132.2 453.0,128.7 451.5,125.0 C450.0,121.3 448.4,117.5 447.0,114.0 C445.6,110.5 443.7,105.7 443.0,104.0 Z" fill="url(#tg)"/>
<path d="M410.6,20 L427.8,22.8 L430.6,20.6 L470,19.4 L525,19.6" fill="none" stroke="#aaa" stroke-width="0.7"/>
<path d="M410.6,23.1 L426.7,25.6 L470,25.6 L503,24.6" fill="none" stroke="#bbb" stroke-width="0.6"/>
<rect x="354.3" y="56.0" width="2.2" height="2.2" fill="#ee2a22"/>
<rect x="364.5" y="57.1" width="2.2" height="2.2" fill="#ee2a22"/>
<path d="M374.0,57.3 L377.0,57.3 L383.0,64.5 L383.3,69.8 L381.5,69.8 L380.5,66.5 L374.0,59.8 Z" fill="#ee2020"/>
<path d="M387.0,61.0 L390.0,61.0 L396.3,72.0 L395.0,75.8 L393.6,75.8 L387.0,63.8 Z" fill="#ee2020" opacity="0.95"/>
<path d="M395.0,58.6 L398.0,58.6 L404.3,69.5 L403.5,74.5 L402.3,74.5 L395.0,61.5 Z" fill="#ee2020" opacity="0.95"/>
<path d="M404.3,59.6 L406.8,59.6 L409.3,66.5 L408.5,71.5 L407.2,71.5 L404.3,62.5 Z" fill="#ee2020" opacity="0.9"/>
<rect x="401.5" y="66.2" width="2.4" height="2.6" fill="#111"/>
<rect x="411.6" y="56.2" width="2.4" height="5.1" fill="#0a0a0a"/>
<rect x="411.9" y="62.1" width="1.7" height="1.7" fill="#e03a2e"/>
<rect x="411.9" y="65.1" width="1.7" height="1.7" fill="#e03a2e"/>
<rect x="414.7" y="59.7" width="2.4" height="5.1" fill="#0a0a0a"/>
<rect x="415.0" y="65.6" width="1.7" height="1.7" fill="#222"/>
<rect x="415.0" y="68.6" width="1.7" height="1.7" fill="#e03a2e"/>
<rect x="421.3" y="56.2" width="2.4" height="5.1" fill="#0a0a0a"/>
<rect x="421.6" y="62.1" width="1.7" height="1.7" fill="#222"/>
<rect x="421.6" y="65.1" width="1.7" height="1.7" fill="#222"/>
<rect x="430.2" y="55.4" width="2.4" height="5.5" fill="#0a0a0a"/>
<rect x="430.5" y="61.7" width="1.7" height="1.7" fill="#222"/>
<rect x="430.5" y="64.7" width="1.7" height="1.7" fill="#222"/>
<rect x="440.7" y="57.0" width="2.4" height="5.1" fill="#0a0a0a"/>
<rect x="441.0" y="62.9" width="1.7" height="1.7" fill="#222"/>
<rect x="441.0" y="65.9" width="1.7" height="1.7" fill="#222"/>
<rect x="452.3" y="59.3" width="2.4" height="6.0" fill="#0a0a0a"/>
<rect x="452.6" y="66.1" width="1.7" height="1.7" fill="#222"/>
<rect x="452.6" y="69.1" width="1.7" height="1.7" fill="#222"/>
<rect x="458.6" y="55.0" width="2.4" height="5.9" fill="#0a0a0a"/>
<rect x="458.9" y="61.7" width="1.7" height="1.7" fill="#222"/>
<rect x="458.9" y="64.7" width="1.7" height="1.7" fill="#777"/>
<rect x="470.6" y="58.9" width="2.4" height="5.5" fill="#0a0a0a"/>
<rect x="470.9" y="65.2" width="1.7" height="1.7" fill="#222"/>
<rect x="470.9" y="68.2" width="1.7" height="1.7" fill="#222"/>
<rect x="480.3" y="58.9" width="2.4" height="5.5" fill="#0a0a0a"/>
<rect x="480.6" y="65.2" width="1.7" height="1.7" fill="#222"/>
<rect x="480.6" y="68.2" width="1.7" height="1.7" fill="#222"/>
<rect x="493.4" y="63.6" width="2.4" height="5.8" fill="#0a0a0a"/>
<rect x="493.8" y="70.2" width="1.7" height="1.7" fill="#222"/>
<rect x="493.8" y="73.2" width="1.7" height="1.7" fill="#222"/>
<rect x="508.1" y="69.3" width="2.4" height="5.7" fill="#0a0a0a"/>
<rect x="508.4" y="75.8" width="1.7" height="1.7" fill="#222"/>
<rect x="404.6" y="58.9" width="2.4" height="4.3" fill="#0a0a0a"/>
<rect x="404.9" y="64.0" width="1.7" height="1.7" fill="#e03a2e"/>
<rect x="404.9" y="67.0" width="1.7" height="1.7" fill="#e03a2e"/>
<rect x="406.5" y="61.6" width="2.4" height="3.8" fill="#0a0a0a"/>
<rect x="406.8" y="66.2" width="1.7" height="1.7" fill="#e03a2e"/>
<rect x="516.9" y="45.0" width="1.8" height="1.8" fill="#111"/>
<rect x="516.9" y="48.5" width="1.8" height="1.8" fill="#111"/>
<rect x="516.9" y="51.6" width="1.8" height="1.8" fill="#111"/>
<rect x="516.9" y="55.0" width="1.8" height="1.8" fill="#111"/>
<rect x="516.9" y="58.2" width="1.8" height="1.8" fill="#111"/>
<rect x="516.9" y="61.8" width="1.8" height="1.8" fill="#111"/>
<rect x="516.9" y="65.0" width="1.8" height="1.8" fill="#111"/>
<rect x="516.9" y="69.3" width="1.8" height="1.8" fill="#111"/>
<rect x="516.9" y="72.8" width="1.8" height="1.8" fill="#111"/>
<rect x="516.9" y="76.2" width="1.8" height="1.8" fill="#111"/></g>
<line x1="281.72" y1="247.20" x2="281.72" y2="245.20" stroke="#3c3c3c" stroke-width="0.9"/>
<line x1="281.72" y1="8.90" x2="281.72" y2="10.90" stroke="#3c3c3c" stroke-width="0.9"/>
<line x1="274.11" y1="247.20" x2="274.11" y2="245.20" stroke="#3c3c3c" stroke-width="0.9"/>
<line x1="274.11" y1="8.90" x2="274.11" y2="10.90" stroke="#3c3c3c" stroke-width="0.9"/>
<line x1="266.50" y1="247.20" x2="266.50" y2="243.60" stroke="#3c3c3c" stroke-width="0.9"/>
<line x1="266.50" y1="8.90" x2="266.50" y2="12.50" stroke="#3c3c3c" stroke-width="0.9"/>
<line x1="258.89" y1="247.20" x2="258.89" y2="245.20" stroke="#3c3c3c" stroke-width="0.9"/>
<line x1="258.89" y1="8.90" x2="258.89" y2="10.90" stroke="#3c3c3c" stroke-width="0.9"/>
<line x1="251.28" y1="247.20" x2="251.28" y2="245.20" stroke="#3c3c3c" stroke-width="0.9"/>
<line x1="251.28" y1="8.90" x2="251.28" y2="10.90" stroke="#3c3c3c" stroke-width="0.9"/>
<line x1="243.68" y1="247.20" x2="243.68" y2="245.20" stroke="#3c3c3c" stroke-width="0.9"/>
<line x1="243.68" y1="8.90" x2="243.68" y2="10.90" stroke="#3c3c3c" stroke-width="0.9"/>
<line x1="236.07" y1="247.20" x2="236.07" y2="245.20" stroke="#3c3c3c" stroke-width="0.9"/>
<line x1="236.07" y1="8.90" x2="236.07" y2="10.90" stroke="#3c3c3c" stroke-width="0.9"/>
<line x1="228.46" y1="247.20" x2="228.46" y2="243.60" stroke="#3c3c3c" stroke-width="0.9"/>
<line x1="228.46" y1="8.90" x2="228.46" y2="12.50" stroke="#3c3c3c" stroke-width="0.9"/>
<line x1="220.85" y1="247.20" x2="220.85" y2="245.20" stroke="#3c3c3c" stroke-width="0.9"/>
<line x1="220.85" y1="8.90" x2="220.85" y2="10.90" stroke="#3c3c3c" stroke-width="0.9"/>
<line x1="213.24" y1="247.20" x2="213.24" y2="245.20" stroke="#3c3c3c" stroke-width="0.9"/>
<line x1="213.24" y1="8.90" x2="213.24" y2="10.90" stroke="#3c3c3c" stroke-width="0.9"/>
<line x1="205.64" y1="247.20" x2="205.64" y2="245.20" stroke="#3c3c3c" stroke-width="0.9"/>
<line x1="205.64" y1="8.90" x2="205.64" y2="10.90" stroke="#3c3c3c" stroke-width="0.9"/>
<line x1="198.03" y1="247.20" x2="198.03" y2="245.20" stroke="#3c3c3c" stroke-width="0.9"/>
<line x1="198.03" y1="8.90" x2="198.03" y2="10.90" stroke="#3c3c3c" stroke-width="0.9"/>
<line x1="190.42" y1="247.20" x2="190.42" y2="243.60" stroke="#3c3c3c" stroke-width="0.9"/>
<line x1="190.42" y1="8.90" x2="190.42" y2="12.50" stroke="#3c3c3c" stroke-width="0.9"/>
<line x1="182.81" y1="247.20" x2="182.81" y2="245.20" stroke="#3c3c3c" stroke-width="0.9"/>
<line x1="182.81" y1="8.90" x2="182.81" y2="10.90" stroke="#3c3c3c" stroke-width="0.9"/>
<line x1="175.20" y1="247.20" x2="175.20" y2="245.20" stroke="#3c3c3c" stroke-width="0.9"/>
<line x1="175.20" y1="8.90" x2="175.20" y2="10.90" stroke="#3c3c3c" stroke-width="0.9"/>
<line x1="167.60" y1="247.20" x2="167.60" y2="245.20" stroke="#3c3c3c" stroke-width="0.9"/>
<line x1="167.60" y1="8.90" x2="167.60" y2="10.90" stroke="#3c3c3c" stroke-width="0.9"/>
<line x1="159.99" y1="247.20" x2="159.99" y2="245.20" stroke="#3c3c3c" stroke-width="0.9"/>
<line x1="159.99" y1="8.90" x2="159.99" y2="10.90" stroke="#3c3c3c" stroke-width="0.9"/>
<line x1="152.38" y1="247.20" x2="152.38" y2="243.60" stroke="#3c3c3c" stroke-width="0.9"/>
<line x1="152.38" y1="8.90" x2="152.38" y2="12.50" stroke="#3c3c3c" stroke-width="0.9"/>
<line x1="144.77" y1="247.20" x2="144.77" y2="245.20" stroke="#3c3c3c" stroke-width="0.9"/>
<line x1="144.77" y1="8.90" x2="144.77" y2="10.90" stroke="#3c3c3c" stroke-width="0.9"/>
<line x1="137.16" y1="247.20" x2="137.16" y2="245.20" stroke="#3c3c3c" stroke-width="0.9"/>
<line x1="137.16" y1="8.90" x2="137.16" y2="10.90" stroke="#3c3c3c" stroke-width="0.9"/>
<line x1="129.56" y1="247.20" x2="129.56" y2="245.20" stroke="#3c3c3c" stroke-width="0.9"/>
<line x1="129.56" y1="8.90" x2="129.56" y2="10.90" stroke="#3c3c3c" stroke-width="0.9"/>
<line x1="121.95" y1="247.20" x2="121.95" y2="245.20" stroke="#3c3c3c" stroke-width="0.9"/>
<line x1="121.95" y1="8.90" x2="121.95" y2="10.90" stroke="#3c3c3c" stroke-width="0.9"/>
<line x1="114.34" y1="247.20" x2="114.34" y2="243.60" stroke="#3c3c3c" stroke-width="0.9"/>
<line x1="114.34" y1="8.90" x2="114.34" y2="12.50" stroke="#3c3c3c" stroke-width="0.9"/>
<line x1="106.73" y1="247.20" x2="106.73" y2="245.20" stroke="#3c3c3c" stroke-width="0.9"/>
<line x1="106.73" y1="8.90" x2="106.73" y2="10.90" stroke="#3c3c3c" stroke-width="0.9"/>
<line x1="99.12" y1="247.20" x2="99.12" y2="245.20" stroke="#3c3c3c" stroke-width="0.9"/>
<line x1="99.12" y1="8.90" x2="99.12" y2="10.90" stroke="#3c3c3c" stroke-width="0.9"/>
<line x1="91.52" y1="247.20" x2="91.52" y2="245.20" stroke="#3c3c3c" stroke-width="0.9"/>
<line x1="91.52" y1="8.90" x2="91.52" y2="10.90" stroke="#3c3c3c" stroke-width="0.9"/>
<line x1="83.91" y1="247.20" x2="83.91" y2="245.20" stroke="#3c3c3c" stroke-width="0.9"/>
<line x1="83.91" y1="8.90" x2="83.91" y2="10.90" stroke="#3c3c3c" stroke-width="0.9"/>
<line x1="76.30" y1="247.20" x2="76.30" y2="243.60" stroke="#3c3c3c" stroke-width="0.9"/>
<line x1="76.30" y1="8.90" x2="76.30" y2="12.50" stroke="#3c3c3c" stroke-width="0.9"/>
<line x1="68.69" y1="247.20" x2="68.69" y2="245.20" stroke="#3c3c3c" stroke-width="0.9"/>
<line x1="68.69" y1="8.90" x2="68.69" y2="10.90" stroke="#3c3c3c" stroke-width="0.9"/>
<line x1="61.08" y1="247.20" x2="61.08" y2="245.20" stroke="#3c3c3c" stroke-width="0.9"/>
<line x1="61.08" y1="8.90" x2="61.08" y2="10.90" stroke="#3c3c3c" stroke-width="0.9"/>
<line x1="53.48" y1="247.20" x2="53.48" y2="245.20" stroke="#3c3c3c" stroke-width="0.9"/>
<line x1="53.48" y1="8.90" x2="53.48" y2="10.90" stroke="#3c3c3c" stroke-width="0.9"/>
<line x1="45.87" y1="247.20" x2="45.87" y2="245.20" stroke="#3c3c3c" stroke-width="0.9"/>
<line x1="45.87" y1="8.90" x2="45.87" y2="10.90" stroke="#3c3c3c" stroke-width="0.9"/>
<line x1="45.90" y1="8.90" x2="49.50" y2="8.90" stroke="#3c3c3c" stroke-width="0.9"/>
<line x1="282.00" y1="8.90" x2="278.40" y2="8.90" stroke="#3c3c3c" stroke-width="0.9"/>
<line x1="45.90" y1="18.83" x2="47.90" y2="18.83" stroke="#3c3c3c" stroke-width="0.9"/>
<line x1="282.00" y1="18.83" x2="280.00" y2="18.83" stroke="#3c3c3c" stroke-width="0.9"/>
<line x1="45.90" y1="28.76" x2="47.90" y2="28.76" stroke="#3c3c3c" stroke-width="0.9"/>
<line x1="282.00" y1="28.76" x2="280.00" y2="28.76" stroke="#3c3c3c" stroke-width="0.9"/>
<line x1="45.90" y1="38.69" x2="47.90" y2="38.69" stroke="#3c3c3c" stroke-width="0.9"/>
<line x1="282.00" y1="38.69" x2="280.00" y2="38.69" stroke="#3c3c3c" stroke-width="0.9"/>
<line x1="45.90" y1="48.62" x2="49.50" y2="48.62" stroke="#3c3c3c" stroke-width="0.9"/>
<line x1="282.00" y1="48.62" x2="278.40" y2="48.62" stroke="#3c3c3c" stroke-width="0.9"/>
<line x1="45.90" y1="58.55" x2="47.90" y2="58.55" stroke="#3c3c3c" stroke-width="0.9"/>
<line x1="282.00" y1="58.55" x2="280.00" y2="58.55" stroke="#3c3c3c" stroke-width="0.9"/>
<line x1="45.90" y1="68.47" x2="47.90" y2="68.47" stroke="#3c3c3c" stroke-width="0.9"/>
<line x1="282.00" y1="68.47" x2="280.00" y2="68.47" stroke="#3c3c3c" stroke-width="0.9"/>
<line x1="45.90" y1="78.40" x2="47.90" y2="78.40" stroke="#3c3c3c" stroke-width="0.9"/>
<line x1="282.00" y1="78.40" x2="280.00" y2="78.40" stroke="#3c3c3c" stroke-width="0.9"/>
<line x1="45.90" y1="88.33" x2="49.50" y2="88.33" stroke="#3c3c3c" stroke-width="0.9"/>
<line x1="282.00" y1="88.33" x2="278.40" y2="88.33" stroke="#3c3c3c" stroke-width="0.9"/>
<line x1="45.90" y1="98.26" x2="47.90" y2="98.26" stroke="#3c3c3c" stroke-width="0.9"/>
<line x1="282.00" y1="98.26" x2="280.00" y2="98.26" stroke="#3c3c3c" stroke-width="0.9"/>
<line x1="45.90" y1="108.19" x2="47.90" y2="108.19" stroke="#3c3c3c" stroke-width="0.9"/>
<line x1="282.00" y1="108.19" x2="280.00" y2="108.19" stroke="#3c3c3c" stroke-width="0.9"/>
<line x1="45.90" y1="118.12" x2="47.90" y2="118.12" stroke="#3c3c3c" stroke-width="0.9"/>
<line x1="282.00" y1="118.12" x2="280.00" y2="118.12" stroke="#3c3c3c" stroke-width="0.9"/>
<line x1="45.90" y1="128.05" x2="49.50" y2="128.05" stroke="#3c3c3c" stroke-width="0.9"/>
<line x1="282.00" y1="128.05" x2="278.40" y2="128.05" stroke="#3c3c3c" stroke-width="0.9"/>
<line x1="45.90" y1="137.98" x2="47.90" y2="137.98" stroke="#3c3c3c" stroke-width="0.9"/>
<line x1="282.00" y1="137.98" x2="280.00" y2="137.98" stroke="#3c3c3c" stroke-width="0.9"/>
<line x1="45.90" y1="147.91" x2="47.90" y2="147.91" stroke="#3c3c3c" stroke-width="0.9"/>
<line x1="282.00" y1="147.91" x2="280.00" y2="147.91" stroke="#3c3c3c" stroke-width="0.9"/>
<line x1="45.90" y1="157.84" x2="47.90" y2="157.84" stroke="#3c3c3c" stroke-width="0.9"/>
<line x1="282.00" y1="157.84" x2="280.00" y2="157.84" stroke="#3c3c3c" stroke-width="0.9"/>
<line x1="45.90" y1="167.76" x2="49.50" y2="167.76" stroke="#3c3c3c" stroke-width="0.9"/>
<line x1="282.00" y1="167.76" x2="278.40" y2="167.76" stroke="#3c3c3c" stroke-width="0.9"/>
<line x1="45.90" y1="177.69" x2="47.90" y2="177.69" stroke="#3c3c3c" stroke-width="0.9"/>
<line x1="282.00" y1="177.69" x2="280.00" y2="177.69" stroke="#3c3c3c" stroke-width="0.9"/>
<line x1="45.90" y1="187.62" x2="47.90" y2="187.62" stroke="#3c3c3c" stroke-width="0.9"/>
<line x1="282.00" y1="187.62" x2="280.00" y2="187.62" stroke="#3c3c3c" stroke-width="0.9"/>
<line x1="45.90" y1="197.55" x2="47.90" y2="197.55" stroke="#3c3c3c" stroke-width="0.9"/>
<line x1="282.00" y1="197.55" x2="280.00" y2="197.55" stroke="#3c3c3c" stroke-width="0.9"/>
<line x1="45.90" y1="207.48" x2="49.50" y2="207.48" stroke="#3c3c3c" stroke-width="0.9"/>
<line x1="282.00" y1="207.48" x2="278.40" y2="207.48" stroke="#3c3c3c" stroke-width="0.9"/>
<line x1="45.90" y1="217.41" x2="47.90" y2="217.41" stroke="#3c3c3c" stroke-width="0.9"/>
<line x1="282.00" y1="217.41" x2="280.00" y2="217.41" stroke="#3c3c3c" stroke-width="0.9"/>
<line x1="45.90" y1="227.34" x2="47.90" y2="227.34" stroke="#3c3c3c" stroke-width="0.9"/>
<line x1="282.00" y1="227.34" x2="280.00" y2="227.34" stroke="#3c3c3c" stroke-width="0.9"/>
<line x1="45.90" y1="237.27" x2="47.90" y2="237.27" stroke="#3c3c3c" stroke-width="0.9"/>
<line x1="282.00" y1="237.27" x2="280.00" y2="237.27" stroke="#3c3c3c" stroke-width="0.9"/>
<line x1="45.90" y1="247.20" x2="49.50" y2="247.20" stroke="#3c3c3c" stroke-width="0.9"/>
<line x1="282.00" y1="247.20" x2="278.40" y2="247.20" stroke="#3c3c3c" stroke-width="0.9"/>
<rect x="45.90" y="8.90" width="236.10" height="238.30" fill="none" stroke="#3c3c3c" stroke-width="1.4"/>
<line x1="571.01" y1="247.20" x2="571.01" y2="245.20" stroke="#3c3c3c" stroke-width="0.9"/>
<line x1="571.01" y1="8.90" x2="571.01" y2="10.90" stroke="#3c3c3c" stroke-width="0.9"/>
<line x1="563.41" y1="247.20" x2="563.41" y2="245.20" stroke="#3c3c3c" stroke-width="0.9"/>
<line x1="563.41" y1="8.90" x2="563.41" y2="10.90" stroke="#3c3c3c" stroke-width="0.9"/>
<line x1="555.80" y1="247.20" x2="555.80" y2="243.60" stroke="#3c3c3c" stroke-width="0.9"/>
<line x1="555.80" y1="8.90" x2="555.80" y2="12.50" stroke="#3c3c3c" stroke-width="0.9"/>
<line x1="548.19" y1="247.20" x2="548.19" y2="245.20" stroke="#3c3c3c" stroke-width="0.9"/>
<line x1="548.19" y1="8.90" x2="548.19" y2="10.90" stroke="#3c3c3c" stroke-width="0.9"/>
<line x1="540.59" y1="247.20" x2="540.59" y2="245.20" stroke="#3c3c3c" stroke-width="0.9"/>
<line x1="540.59" y1="8.90" x2="540.59" y2="10.90" stroke="#3c3c3c" stroke-width="0.9"/>
<line x1="532.98" y1="247.20" x2="532.98" y2="245.20" stroke="#3c3c3c" stroke-width="0.9"/>
<line x1="532.98" y1="8.90" x2="532.98" y2="10.90" stroke="#3c3c3c" stroke-width="0.9"/>
<line x1="525.38" y1="247.20" x2="525.38" y2="245.20" stroke="#3c3c3c" stroke-width="0.9"/>
<line x1="525.38" y1="8.90" x2="525.38" y2="10.90" stroke="#3c3c3c" stroke-width="0.9"/>
<line x1="517.77" y1="247.20" x2="517.77" y2="243.60" stroke="#3c3c3c" stroke-width="0.9"/>
<line x1="517.77" y1="8.90" x2="517.77" y2="12.50" stroke="#3c3c3c" stroke-width="0.9"/>
<line x1="510.16" y1="247.20" x2="510.16" y2="245.20" stroke="#3c3c3c" stroke-width="0.9"/>
<line x1="510.16" y1="8.90" x2="510.16" y2="10.90" stroke="#3c3c3c" stroke-width="0.9"/>
<line x1="502.56" y1="247.20" x2="502.56" y2="245.20" stroke="#3c3c3c" stroke-width="0.9"/>
<line x1="502.56" y1="8.90" x2="502.56" y2="10.90" stroke="#3c3c3c" stroke-width="0.9"/>
<line x1="494.95" y1="247.20" x2="494.95" y2="245.20" stroke="#3c3c3c" stroke-width="0.9"/>
<line x1="494.95" y1="8.90" x2="494.95" y2="10.90" stroke="#3c3c3c" stroke-width="0.9"/>
<line x1="487.35" y1="247.20" x2="487.35" y2="245.20" stroke="#3c3c3c" stroke-width="0.9"/>
<line x1="487.35" y1="8.90" x2="487.35" y2="10.90" stroke="#3c3c3c" stroke-width="0.9"/>
<line x1="479.74" y1="247.20" x2="479.74" y2="243.60" stroke="#3c3c3c" stroke-width="0.9"/>
<line x1="479.74" y1="8.90" x2="479.74" y2="12.50" stroke="#3c3c3c" stroke-width="0.9"/>
<line x1="472.13" y1="247.20" x2="472.13" y2="245.20" stroke="#3c3c3c" stroke-width="0.9"/>
<line x1="472.13" y1="8.90" x2="472.13" y2="10.90" stroke="#3c3c3c" stroke-width="0.9"/>
<line x1="464.53" y1="247.20" x2="464.53" y2="245.20" stroke="#3c3c3c" stroke-width="0.9"/>
<line x1="464.53" y1="8.90" x2="464.53" y2="10.90" stroke="#3c3c3c" stroke-width="0.9"/>
<line x1="456.92" y1="247.20" x2="456.92" y2="245.20" stroke="#3c3c3c" stroke-width="0.9"/>
<line x1="456.92" y1="8.90" x2="456.92" y2="10.90" stroke="#3c3c3c" stroke-width="0.9"/>
<line x1="449.32" y1="247.20" x2="449.32" y2="245.20" stroke="#3c3c3c" stroke-width="0.9"/>
<line x1="449.32" y1="8.90" x2="449.32" y2="10.90" stroke="#3c3c3c" stroke-width="0.9"/>
<line x1="441.71" y1="247.20" x2="441.71" y2="243.60" stroke="#3c3c3c" stroke-width="0.9"/>
<line x1="441.71" y1="8.90" x2="441.71" y2="12.50" stroke="#3c3c3c" stroke-width="0.9"/>
<line x1="434.10" y1="247.20" x2="434.10" y2="245.20" stroke="#3c3c3c" stroke-width="0.9"/>
<line x1="434.10" y1="8.90" x2="434.10" y2="10.90" stroke="#3c3c3c" stroke-width="0.9"/>
<line x1="426.50" y1="247.20" x2="426.50" y2="245.20" stroke="#3c3c3c" stroke-width="0.9"/>
<line x1="426.50" y1="8.90" x2="426.50" y2="10.90" stroke="#3c3c3c" stroke-width="0.9"/>
<line x1="418.89" y1="247.20" x2="418.89" y2="245.20" stroke="#3c3c3c" stroke-width="0.9"/>
<line x1="418.89" y1="8.90" x2="418.89" y2="10.90" stroke="#3c3c3c" stroke-width="0.9"/>
<line x1="411.29" y1="247.20" x2="411.29" y2="245.20" stroke="#3c3c3c" stroke-width="0.9"/>
<line x1="411.29" y1="8.90" x2="411.29" y2="10.90" stroke="#3c3c3c" stroke-width="0.9"/>
<line x1="403.68" y1="247.20" x2="403.68" y2="243.60" stroke="#3c3c3c" stroke-width="0.9"/>
<line x1="403.68" y1="8.90" x2="403.68" y2="12.50" stroke="#3c3c3c" stroke-width="0.9"/>
<line x1="396.07" y1="247.20" x2="396.07" y2="245.20" stroke="#3c3c3c" stroke-width="0.9"/>
<line x1="396.07" y1="8.90" x2="396.07" y2="10.90" stroke="#3c3c3c" stroke-width="0.9"/>
<line x1="388.47" y1="247.20" x2="388.47" y2="245.20" stroke="#3c3c3c" stroke-width="0.9"/>
<line x1="388.47" y1="8.90" x2="388.47" y2="10.90" stroke="#3c3c3c" stroke-width="0.9"/>
<line x1="380.86" y1="247.20" x2="380.86" y2="245.20" stroke="#3c3c3c" stroke-width="0.9"/>
<line x1="380.86" y1="8.90" x2="380.86" y2="10.90" stroke="#3c3c3c" stroke-width="0.9"/>
<line x1="373.26" y1="247.20" x2="373.26" y2="245.20" stroke="#3c3c3c" stroke-width="0.9"/>
<line x1="373.26" y1="8.90" x2="373.26" y2="10.90" stroke="#3c3c3c" stroke-width="0.9"/>
<line x1="365.65" y1="247.20" x2="365.65" y2="243.60" stroke="#3c3c3c" stroke-width="0.9"/>
<line x1="365.65" y1="8.90" x2="365.65" y2="12.50" stroke="#3c3c3c" stroke-width="0.9"/>
<line x1="358.04" y1="247.20" x2="358.04" y2="245.20" stroke="#3c3c3c" stroke-width="0.9"/>
<line x1="358.04" y1="8.90" x2="358.04" y2="10.90" stroke="#3c3c3c" stroke-width="0.9"/>
<line x1="350.44" y1="247.20" x2="350.44" y2="245.20" stroke="#3c3c3c" stroke-width="0.9"/>
<line x1="350.44" y1="8.90" x2="350.44" y2="10.90" stroke="#3c3c3c" stroke-width="0.9"/>
<line x1="342.83" y1="247.20" x2="342.83" y2="245.20" stroke="#3c3c3c" stroke-width="0.9"/>
<line x1="342.83" y1="8.90" x2="342.83" y2="10.90" stroke="#3c3c3c" stroke-width="0.9"/>
<line x1="335.23" y1="247.20" x2="335.23" y2="245.20" stroke="#3c3c3c" stroke-width="0.9"/>
<line x1="335.23" y1="8.90" x2="335.23" y2="10.90" stroke="#3c3c3c" stroke-width="0.9"/>
<line x1="335.20" y1="246.99" x2="337.20" y2="246.99" stroke="#3c3c3c" stroke-width="0.9"/>
<line x1="571.00" y1="246.99" x2="569.00" y2="246.99" stroke="#3c3c3c" stroke-width="0.9"/>
<line x1="335.20" y1="235.22" x2="337.20" y2="235.22" stroke="#3c3c3c" stroke-width="0.9"/>
<line x1="571.00" y1="235.22" x2="569.00" y2="235.22" stroke="#3c3c3c" stroke-width="0.9"/>
<line x1="335.20" y1="223.46" x2="337.20" y2="223.46" stroke="#3c3c3c" stroke-width="0.9"/>
<line x1="571.00" y1="223.46" x2="569.00" y2="223.46" stroke="#3c3c3c" stroke-width="0.9"/>
<line x1="335.20" y1="211.70" x2="338.80" y2="211.70" stroke="#3c3c3c" stroke-width="0.9"/>
<line x1="571.00" y1="211.70" x2="567.40" y2="211.70" stroke="#3c3c3c" stroke-width="0.9"/>
<line x1="335.20" y1="199.94" x2="337.20" y2="199.94" stroke="#3c3c3c" stroke-width="0.9"/>
<line x1="571.00" y1="199.94" x2="569.00" y2="199.94" stroke="#3c3c3c" stroke-width="0.9"/>
<line x1="335.20" y1="188.17" x2="337.20" y2="188.17" stroke="#3c3c3c" stroke-width="0.9"/>
<line x1="571.00" y1="188.17" x2="569.00" y2="188.17" stroke="#3c3c3c" stroke-width="0.9"/>
<line x1="335.20" y1="176.41" x2="337.20" y2="176.41" stroke="#3c3c3c" stroke-width="0.9"/>
<line x1="571.00" y1="176.41" x2="569.00" y2="176.41" stroke="#3c3c3c" stroke-width="0.9"/>
<line x1="335.20" y1="164.65" x2="338.80" y2="164.65" stroke="#3c3c3c" stroke-width="0.9"/>
<line x1="571.00" y1="164.65" x2="567.40" y2="164.65" stroke="#3c3c3c" stroke-width="0.9"/>
<line x1="335.20" y1="152.89" x2="337.20" y2="152.89" stroke="#3c3c3c" stroke-width="0.9"/>
<line x1="571.00" y1="152.89" x2="569.00" y2="152.89" stroke="#3c3c3c" stroke-width="0.9"/>
<line x1="335.20" y1="141.12" x2="337.20" y2="141.12" stroke="#3c3c3c" stroke-width="0.9"/>
<line x1="571.00" y1="141.12" x2="569.00" y2="141.12" stroke="#3c3c3c" stroke-width="0.9"/>
<line x1="335.20" y1="129.36" x2="337.20" y2="129.36" stroke="#3c3c3c" stroke-width="0.9"/>
<line x1="571.00" y1="129.36" x2="569.00" y2="129.36" stroke="#3c3c3c" stroke-width="0.9"/>
<line x1="335.20" y1="117.60" x2="338.80" y2="117.60" stroke="#3c3c3c" stroke-width="0.9"/>
<line x1="571.00" y1="117.60" x2="567.40" y2="117.60" stroke="#3c3c3c" stroke-width="0.9"/>
<line x1="335.20" y1="105.84" x2="337.20" y2="105.84" stroke="#3c3c3c" stroke-width="0.9"/>
<line x1="571.00" y1="105.84" x2="569.00" y2="105.84" stroke="#3c3c3c" stroke-width="0.9"/>
<line x1="335.20" y1="94.07" x2="337.20" y2="94.07" stroke="#3c3c3c" stroke-width="0.9"/>
<line x1="571.00" y1="94.07" x2="569.00" y2="94.07" stroke="#3c3c3c" stroke-width="0.9"/>
<line x1="335.20" y1="82.31" x2="337.20" y2="82.31" stroke="#3c3c3c" stroke-width="0.9"/>
<line x1="571.00" y1="82.31" x2="569.00" y2="82.31" stroke="#3c3c3c" stroke-width="0.9"/>
<line x1="335.20" y1="70.55" x2="338.80" y2="70.55" stroke="#3c3c3c" stroke-width="0.9"/>
<line x1="571.00" y1="70.55" x2="567.40" y2="70.55" stroke="#3c3c3c" stroke-width="0.9"/>
<line x1="335.20" y1="58.79" x2="337.20" y2="58.79" stroke="#3c3c3c" stroke-width="0.9"/>
<line x1="571.00" y1="58.79" x2="569.00" y2="58.79" stroke="#3c3c3c" stroke-width="0.9"/>
<line x1="335.20" y1="47.02" x2="337.20" y2="47.02" stroke="#3c3c3c" stroke-width="0.9"/>
<line x1="571.00" y1="47.02" x2="569.00" y2="47.02" stroke="#3c3c3c" stroke-width="0.9"/>
<line x1="335.20" y1="35.26" x2="337.20" y2="35.26" stroke="#3c3c3c" stroke-width="0.9"/>
<line x1="571.00" y1="35.26" x2="569.00" y2="35.26" stroke="#3c3c3c" stroke-width="0.9"/>
<line x1="335.20" y1="23.50" x2="338.80" y2="23.50" stroke="#3c3c3c" stroke-width="0.9"/>
<line x1="571.00" y1="23.50" x2="567.40" y2="23.50" stroke="#3c3c3c" stroke-width="0.9"/>
<line x1="335.20" y1="11.74" x2="337.20" y2="11.74" stroke="#3c3c3c" stroke-width="0.9"/>
<line x1="571.00" y1="11.74" x2="569.00" y2="11.74" stroke="#3c3c3c" stroke-width="0.9"/>
<rect x="335.20" y="8.90" width="235.80" height="238.30" fill="none" stroke="#3c3c3c" stroke-width="1.4"/>
<text x="76.60" y="260.30" font-size="17.3" text-anchor="middle" textLength="23.6" lengthAdjust="spacingAndGlyphs">6.0</text>
<text x="114.64" y="260.30" font-size="17.3" text-anchor="middle" textLength="23.6" lengthAdjust="spacingAndGlyphs">5.5</text>
<text x="152.68" y="260.30" font-size="17.3" text-anchor="middle" textLength="23.6" lengthAdjust="spacingAndGlyphs">5.0</text>
<text x="190.72" y="260.30" font-size="17.3" text-anchor="middle" textLength="23.6" lengthAdjust="spacingAndGlyphs">4.5</text>
<text x="228.76" y="260.30" font-size="17.3" text-anchor="middle" textLength="23.6" lengthAdjust="spacingAndGlyphs">4.0</text>
<text x="266.80" y="260.30" font-size="17.3" text-anchor="middle" textLength="23.6" lengthAdjust="spacingAndGlyphs">3.5</text>
<text x="365.95" y="260.30" font-size="17.3" text-anchor="middle" textLength="23.6" lengthAdjust="spacingAndGlyphs">6.0</text>
<text x="403.98" y="260.30" font-size="17.3" text-anchor="middle" textLength="23.6" lengthAdjust="spacingAndGlyphs">5.5</text>
<text x="442.01" y="260.30" font-size="17.3" text-anchor="middle" textLength="23.6" lengthAdjust="spacingAndGlyphs">5.0</text>
<text x="480.04" y="260.30" font-size="17.3" text-anchor="middle" textLength="23.6" lengthAdjust="spacingAndGlyphs">4.5</text>
<text x="518.07" y="260.30" font-size="17.3" text-anchor="middle" textLength="23.6" lengthAdjust="spacingAndGlyphs">4.0</text>
<text x="556.10" y="260.30" font-size="17.3" text-anchor="middle" textLength="23.6" lengthAdjust="spacingAndGlyphs">3.5</text>
<text x="44.20" y="15.10" font-size="17.3" text-anchor="end" textLength="20.0" lengthAdjust="spacingAndGlyphs">−2</text>
<text x="44.20" y="54.82" font-size="17.3" text-anchor="end" textLength="8.5" lengthAdjust="spacingAndGlyphs">0</text>
<text x="44.20" y="94.53" font-size="17.3" text-anchor="end" textLength="8.5" lengthAdjust="spacingAndGlyphs">2</text>
<text x="44.20" y="134.25" font-size="17.3" text-anchor="end" textLength="8.5" lengthAdjust="spacingAndGlyphs">4</text>
<text x="44.20" y="173.96" font-size="17.3" text-anchor="end" textLength="8.5" lengthAdjust="spacingAndGlyphs">6</text>
<text x="44.20" y="213.68" font-size="17.3" text-anchor="end" textLength="8.5" lengthAdjust="spacingAndGlyphs">8</text>
<text x="44.20" y="253.40" font-size="17.3" text-anchor="end" textLength="17.0" lengthAdjust="spacingAndGlyphs">10</text>
<text x="333.40" y="218.00" font-size="17.3" text-anchor="end" textLength="20.0" lengthAdjust="spacingAndGlyphs">−2</text>
<text x="333.40" y="170.95" font-size="17.3" text-anchor="end" textLength="8.5" lengthAdjust="spacingAndGlyphs">0</text>
<text x="333.40" y="123.90" font-size="17.3" text-anchor="end" textLength="8.5" lengthAdjust="spacingAndGlyphs">2</text>
<text x="333.40" y="76.85" font-size="17.3" text-anchor="end" textLength="8.5" lengthAdjust="spacingAndGlyphs">4</text>
<text x="333.40" y="29.80" font-size="17.3" text-anchor="end" textLength="8.5" lengthAdjust="spacingAndGlyphs">6</text>
<text x="125.70" y="277" font-size="17.6" textLength="76.3" lengthAdjust="spacingAndGlyphs">log(<tspan font-style="italic">T</tspan><tspan font-size="12.5" dy="3">eff</tspan><tspan dy="-3">/K)</tspan></text>
<text x="415.20" y="277" font-size="17.6" textLength="76.3" lengthAdjust="spacingAndGlyphs">log(<tspan font-style="italic">T</tspan><tspan font-size="12.5" dy="3">eff</tspan><tspan dy="-3">/K)</tspan></text>
<text transform="translate(17.6,128.2) rotate(-90)" x="0" y="0" font-size="17.6" text-anchor="middle" textLength="101" lengthAdjust="spacingAndGlyphs">log<tspan font-style="italic">g</tspan>/(cm·s<tspan font-size="12.5" dy="-6">−2</tspan><tspan dy="6">)</tspan></text>
<text transform="translate(307.4,127.9) rotate(-90)" x="0" y="0" font-size="17.6" text-anchor="middle" textLength="70.3" lengthAdjust="spacingAndGlyphs">log(<tspan font-style="italic">L</tspan>/<tspan font-style="italic">L</tspan><tspan font-size="12.5" dy="3">⊙</tspan><tspan dy="-3">)</tspan></text>
<rect x="585.7" y="8.90" width="11.90" height="30.09" fill="#b3b3b3"/>
<rect x="585.7" y="38.69" width="11.90" height="30.09" fill="#e5c494"/>
<rect x="585.7" y="68.47" width="11.90" height="30.09" fill="#ffd92f"/>
<rect x="585.7" y="98.26" width="11.90" height="30.09" fill="#a6d854"/>
<rect x="585.7" y="128.05" width="11.90" height="30.09" fill="#e78ac3"/>
<rect x="585.7" y="157.84" width="11.90" height="30.09" fill="#8da0cb"/>
<rect x="585.7" y="187.62" width="11.90" height="30.09" fill="#fc8d62"/>
<rect x="585.7" y="217.41" width="11.90" height="30.09" fill="#66c2a5"/>
<line x1="593.30" y1="23.79" x2="597.60" y2="23.79" stroke="#3c3c3c" stroke-width="1.0"/>
<text x="598.50" y="27.09" font-size="7.6" text-anchor="start" textLength="11.9" lengthAdjust="spacingAndGlyphs" fill="#222">WR</text>
<line x1="593.30" y1="53.58" x2="597.60" y2="53.58" stroke="#3c3c3c" stroke-width="1.0"/>
<text x="598.50" y="56.88" font-size="7.6" text-anchor="start" textLength="29.2" lengthAdjust="spacingAndGlyphs" fill="#222">postAGB</text>
<line x1="593.30" y1="83.37" x2="597.60" y2="83.37" stroke="#3c3c3c" stroke-width="1.0"/>
<text x="598.50" y="86.67" font-size="7.6" text-anchor="start" textLength="23.5" lengthAdjust="spacingAndGlyphs" fill="#222">TPAGB</text>
<line x1="593.30" y1="113.16" x2="597.60" y2="113.16" stroke="#3c3c3c" stroke-width="1.0"/>
<text x="598.50" y="116.46" font-size="7.6" text-anchor="start" textLength="19.9" lengthAdjust="spacingAndGlyphs" fill="#222">EAGB</text>
<line x1="593.30" y1="142.94" x2="597.60" y2="142.94" stroke="#3c3c3c" stroke-width="1.0"/>
<text x="598.50" y="146.24" font-size="7.6" text-anchor="start" textLength="19.5" lengthAdjust="spacingAndGlyphs" fill="#222">CHeB</text>
<line x1="593.30" y1="172.73" x2="597.60" y2="172.73" stroke="#3c3c3c" stroke-width="1.0"/>
<text x="598.50" y="176.03" font-size="7.6" text-anchor="start" textLength="10.5" lengthAdjust="spacingAndGlyphs" fill="#222">RG</text>
<line x1="593.30" y1="202.52" x2="597.60" y2="202.52" stroke="#3c3c3c" stroke-width="1.0"/>
<text x="598.50" y="205.82" font-size="7.6" text-anchor="start" textLength="11.1" lengthAdjust="spacingAndGlyphs" fill="#222">HG</text>
<line x1="593.30" y1="232.31" x2="597.60" y2="232.31" stroke="#3c3c3c" stroke-width="1.0"/>
<text x="598.50" y="235.61" font-size="7.6" text-anchor="start" textLength="11.1" lengthAdjust="spacingAndGlyphs" fill="#222">MS</text>
<rect x="585.7" y="8.9" width="11.90" height="238.30" fill="none" stroke="#3c3c3c" stroke-width="1.4"/>
</svg>
</body></html>
